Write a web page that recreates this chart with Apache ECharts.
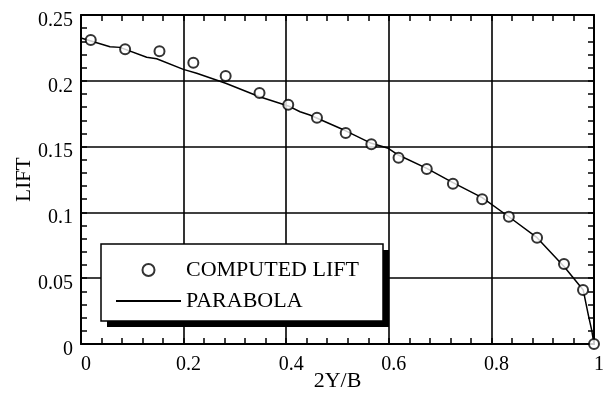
<!DOCTYPE html>
<html>
<head>
<meta charset="utf-8">
<script src="https://cdn.jsdelivr.net/npm/echarts@6/dist/echarts.min.js"></script>
<style>
html,body{margin:0;padding:0;background:#fff;}
#chart{width:610px;height:393px;}
</style>
</head>
<body>
<div id="chart"></div>
<script>
// Data
const xTickLabels = ['0', '0.2', '0.4', '0.6', '0.8', '1'];
const yTickLabels = ['0', '0.05', '0.1', '0.15', '0.2', '0.25'];

const computedX = [0.019, 0.086, 0.153, 0.219, 0.282, 0.348, 0.404, 0.460, 0.516, 0.566, 0.619, 0.674, 0.725, 0.782, 0.834, 0.889, 0.9415, 0.9786, 1.0];
const computedY = [0.231, 0.224, 0.2224, 0.2138, 0.2036, 0.1907, 0.1818, 0.172, 0.1603, 0.1517, 0.1416, 0.133, 0.1218, 0.110, 0.0967, 0.0808, 0.0608, 0.041, 0.0];

const parabolaX = [0, 0.0565, 0.076, 0.128, 0.1475, 0.1995, 0.2255, 0.282, 0.348, 0.404, 0.427, 0.446, 0.516, 0.566, 0.599, 0.6186, 0.674, 0.725, 0.782, 0.834, 0.889, 0.942, 0.979, 0.989, 0.9955, 1.0];
const parabolaY = [0.2325, 0.2259, 0.2254, 0.2179, 0.2168, 0.2087, 0.2057, 0.1981, 0.1879, 0.1809, 0.1765, 0.174, 0.162, 0.1525, 0.1487, 0.1436, 0.1335, 0.1226, 0.1112, 0.0967, 0.0808, 0.0587, 0.041, 0.022, 0.0106, 0.0];

const FONT = 'Liberation Serif';

const chart = echarts.init(document.getElementById('chart'), null, {renderer: 'canvas'});

function fmtFrom(labels, step) {
  return function (v) {
    const i = Math.round(v / step);
    return labels[i] !== undefined ? labels[i] : '';
  };
}

function axisBase() {
  return {
    axisLine: {show: true, onZero: false, lineStyle: {color: '#000', width: 2}},
    axisTick: {show: true, inside: true, length: 6, lineStyle: {color: '#000', width: 1.5}},
    minorTick: {show: true, splitNumber: 5, length: 6, lineStyle: {color: '#000', width: 1.5}},
    minorSplitLine: {show: false}
  };
}

// legend box geometry (decoration)
const LB = {x: 101, y: 244, w: 282, h: 77, sh: 6};

const option = {
  animation: false,
  backgroundColor: '#fff',
  grid: {left: 81, right: 16, top: 15, bottom: 49, containLabel: false, outerBoundsMode: 'none'},
  xAxis: [
    Object.assign(axisBase(), {
      type: 'value', min: 0, max: 1, interval: 0.2, position: 'bottom',
      name: '2Y/B', nameLocation: 'middle', nameGap: 26, nameMoveOverlap: false,
      nameTextStyle: {fontFamily: FONT, fontSize: 22, color: '#000'},
      splitLine: {show: true, lineStyle: {color: '#000', width: 1.6}},
      axisLabel: {show: true, fontFamily: FONT, fontSize: 20, color: '#000', margin: 11,
        padding: [0, 0, 0, 10], formatter: fmtFrom(xTickLabels, 0.2)}
    }),
    Object.assign(axisBase(), {
      type: 'value', min: 0, max: 1, interval: 0.2, position: 'top',
      splitLine: {show: false}, axisLabel: {show: false}
    })
  ],
  yAxis: [
    Object.assign(axisBase(), {
      type: 'value', min: 0, max: 0.25, interval: 0.05, position: 'left',
      name: 'LIFT', nameLocation: 'middle', nameGap: 46, nameMoveOverlap: false,
      nameTextStyle: {fontFamily: FONT, fontSize: 21, color: '#000'},
      splitLine: {show: true, lineStyle: {color: '#000', width: 1.6}},
      axisLabel: {show: true, fontFamily: FONT, fontSize: 20, color: '#000', margin: 8,
        verticalAlign: 'top', lineHeight: 11, formatter: fmtFrom(yTickLabels, 0.05)}
    }),
    Object.assign(axisBase(), {
      type: 'value', min: 0, max: 0.25, interval: 0.05, position: 'right',
      splitLine: {show: false}, axisLabel: {show: false}
    })
  ],
  graphic: [
    {type: 'rect', z: 1, silent: true,
      shape: {x: LB.x + LB.sh, y: LB.y + LB.sh, width: LB.w, height: LB.h},
      style: {fill: '#000', stroke: null}},
    {type: 'rect', z: 1, silent: true,
      shape: {x: LB.x, y: LB.y, width: LB.w, height: LB.h},
      style: {fill: '#fff', stroke: '#000', lineWidth: 1.5}}
  ],
  legend: {
    orient: 'vertical',
    left: 101, top: 244, z: 5,
    padding: [15, 25, 9, 14],
    itemWidth: 65, itemHeight: 12, itemGap: 9,
    textStyle: {fontFamily: FONT, fontSize: 22, color: '#000', lineHeight: 20},
    data: [
      {name: 'COMPUTED LIFT'},
      {name: 'PARABOLA', itemStyle: {opacity: 0}}
    ]
  },
  series: [
    {
      name: 'PARABOLA', type: 'line',
      data: parabolaX.map((x, i) => [x, parabolaY[i]]),
      symbol: 'none', showSymbol: false, smooth: false,
      lineStyle: {color: '#000', width: 1.5},
      itemStyle: {color: '#000'},
      z: 2
    },
    {
      name: 'COMPUTED LIFT', type: 'scatter',
      data: computedX.map((x, i) => [x, computedY[i]]),
      symbol: 'emptyCircle', symbolSize: 10,
      itemStyle: {color: '#000', borderColor: '#000', borderWidth: 1.5},
      clip: false,
      z: 3
    }
  ]
};
chart.setOption(option);
</script>
</body>
</html>
